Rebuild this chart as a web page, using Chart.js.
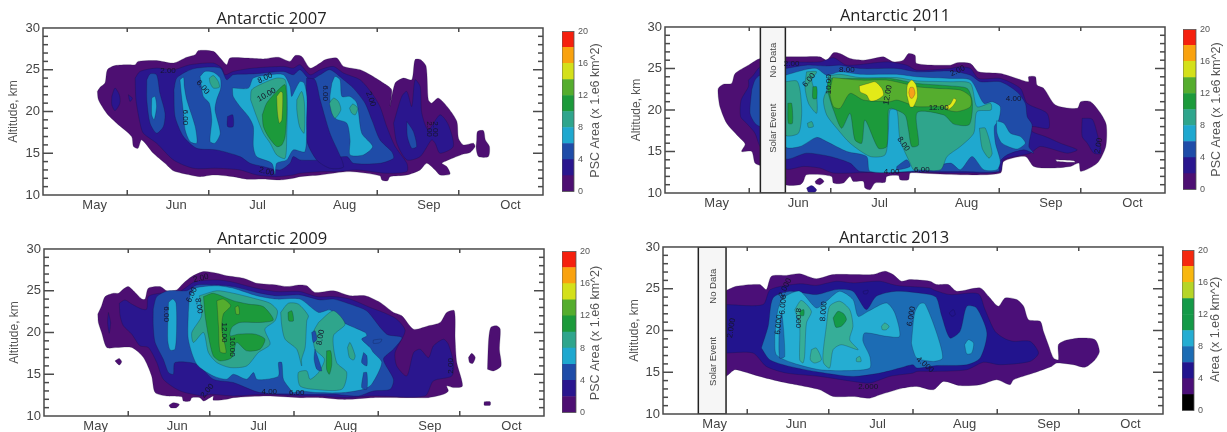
<!DOCTYPE html>
<html>
<head>
<meta charset="utf-8">
<title>Antarctic PSC area</title>
<script src="https://cdn.jsdelivr.net/npm/chart.js@4/dist/chart.umd.js"></script>
<style>
  html, body { margin: 0; background: #fff; }
  body { position: relative; width: 1227px; height: 432px; overflow: hidden; }
  canvas { position: absolute; filter: blur(0.4px); }
</style>
</head>
<body>
<script>
// x values are days since 1 May, y values are altitude in km

const monthNames  = ["May", "Jun", "Jul", "Aug", "Sep", "Oct"]
const monthCentre = [19, 49, 79, 111, 142, 172]
const monthStarts = [31, 61, 92, 123, 153]
const altTicks    = [10, 15, 20, 25, 30]
const barTicks    = [0, 4, 8, 12, 16, 20]

const colours = {
  purple: "#4d0f72", indigo: "#2a168e", blue: "#1f4ca8", cyan: "#1fa8cf", teal: "#2fa58c",
  green: "#1c9a3b", lime: "#55ad2e", yellow: "#e2ea18", orange: "#f6a11b", red: "#f4200e", white: "#ffffff"
}
const bandColours     = ["#4d0f72", "#2a168e", "#1f4ca8", "#1fa8cf", "#2fa58c", "#1c9a3b", "#55ad2e", "#d4e01a", "#f9a20f", "#f5200e"]
const bandColours2013 = ["#000000", "#4b0f78", "#22148e", "#1c6cb4", "#25add2", "#149a48", "#149a48", "#b6d527", "#f8b70f", "#f5290f"]
const colours2013 = { purple: "#4b0f78", indigo: "#22148e", blue: "#1c6cb4", cyan: "#25add2", teal: "#36ae98", green: "#149a48" }

// ── 2007 contours ────────────────────────────────────────────────────────────
const purple2007 = [
  [[20,22.4],[21,22.9],[22.8,23.4],[23.7,25],[26.5,25.5],[31.4,25.6],[33.9,25.6],[35,26],[41.8,26.1],[48,25.8],[52.9,26.5],[56,26.8],[57.2,27.3],[62.7,27.2],[65.2,26.4],[67.6,25.6],[68.8,26.4],[75,26.4],[81.1,26.3],[86.6,26.5],[90.9,26],[92.8,26.7],[95.2,26.6],[98.3,25.2],[102,25.8],[103.8,26.2],[108.1,26.4],[110.6,25.4],[116.7,25],[120.4,24.4],[125.3,23.4],[128.3,22.6],[127.7,20.6],[129.6,23.4],[132.6,24],[135.7,23.8],[136.9,26.2],[139,26.2],[141,25.4],[141.8,21.4],[143,21],[145.5,21.6],[149.2,20.4],[152.3,18.8],[152.9,16.8],[154.7,16],[158.4,16.2],[159,15.8],[157.2,15.1],[154.7,14.9],[149.2,14.2],[146.8,13.8],[148.6,13.4],[149.8,12.5],[146.1,12.4],[144.3,13],[141.2,13.8],[138.8,13],[133.9,12.4],[127.7,12.2],[126.8,11.7],[124.7,11.8],[124,12.3],[113,12.8],[102,12.4],[94.6,12.2],[92.1,12],[87.2,11.8],[82.3,11.9],[75,11.9],[70,12.2],[62.7,12.4],[57.8,12.2],[54.1,12.4],[48,12.9],[44.9,13.8],[40.6,15],[36.3,16.6],[35,15.6],[33.3,15.8],[32.6,17],[27.1,18.6],[23.4,19.8],[20.4,21.4]],
  [[159.6,16.6],[159.9,17.6],[162.1,17.7],[162.8,16.6],[164.3,15.8],[163.9,14.6],[160.3,14.6],[159.4,15.6]]
]
const indigo2007 = [
  [[33.9,24],[35.7,24.8],[41.8,25.2],[48,25],[54.1,25.6],[62.7,25.8],[65.8,25.2],[67,24.4],[70,24.8],[77.4,25.2],[88.5,25.4],[92.1,25.2],[94.6,25.6],[98.3,24.4],[102,25],[106.9,25.4],[110.6,24.6],[116.7,23.8],[121,22.2],[124,20.6],[126.5,18.2],[129.6,15.8],[133.9,13.8],[133.9,12.8],[126.5,12.6],[115.5,13],[108.1,12.8],[103.2,12.8],[94.6,12.6],[92.1,12.4],[86,12.2],[78.6,12.4],[72.5,13],[63.9,13.2],[55.3,13.2],[48,14.2],[41.8,16.2],[36.9,17.4],[35.7,18.6],[34.2,21.4]],
  [[25.3,21.8],[26.5,22.8],[28.1,22],[28.3,21],[26.5,20.1],[25.3,20.8]],
  [[31.4,22],[32.9,21.6],[32,21.2]],
  [[129,18.6],[132,21.8],[133.9,22.4],[135.7,20.6],[136.9,23.8],[138.8,23],[139.4,19.8],[141.8,17.8],[146.1,19.6],[149.2,18.4],[151,15.8],[146.1,15],[144.3,16.2],[143,16.6],[138.8,14.6],[133.9,14.2],[130.2,16.2]]
]
const blue2007 = [
  [[38.2,23.8],[39.4,24.5],[41.8,24.4],[43,22.2],[44.9,19.8],[44.3,18.2],[41.8,17.4],[39.4,18.6],[38.2,21.4]],
  [[48.2,22.6],[49.2,24],[52.9,24.8],[56.6,25.2],[65.2,25.2],[67.6,23.8],[70,24.4],[77.4,24.5],[88.5,24.8],[92.1,24.4],[94.6,25],[98.3,23.8],[102,24.4],[105.6,25],[110.6,23.8],[114.2,22.8],[118.5,21],[121,19],[124,16.6],[128.3,15.2],[129,14.4],[124,13.8],[114.2,13.8],[111.8,14.6],[102,14.2],[94.6,14.2],[92.1,14.6],[90.9,13.8],[87.2,13],[81.1,13.4],[76.2,13.8],[72.5,14.6],[63.9,15.4],[56.6,15.6],[51.7,17],[48.6,19.4]],
  [[133.9,18.8],[136.3,17.6],[137.5,15.8],[135.7,15.6],[134.1,17]]
]
const band2007 = [
  [[97,24],[100.1,23.8],[102,21.4],[105.6,17.4],[110.6,13.4],[105.6,13.2],[100.7,14.2],[97,16.6]],
  [[67.9,19.4],[69.8,19.6],[70,18.2],[67.9,18.2]]
]
const cyan2007 = [
  [[40,21.6],[41.2,21.8],[41.8,20.6],[40.9,19],[40,19.6]],
  [[50.4,23.8],[51.7,24.1],[52,23],[52.9,21.4],[56,18.2],[56.6,16.2],[54.1,16.4],[52.3,17.8],[51.7,19.8],[51,21.8]],
  [[57.8,24.2],[59.6,24.8],[62.7,24.7],[65.2,24],[65.4,22.8],[63.9,21.4],[63.3,20.2],[65.2,17.4],[63.3,16.2],[61.5,16.4],[62.1,19],[61.2,21],[59,21.8]],
  [[69.7,22.8],[75.6,22.8],[77.4,24],[83.6,24.4],[88.5,24.4],[90.9,23],[91.5,21.8],[92.8,22.6],[94.6,23.6],[96.1,23.4],[97.1,21.8],[97,19],[96.4,15.2],[92.1,15.4],[89.7,14.2],[86,13.8],[85.4,12.4],[84.2,13.8],[78.6,14.6],[77.4,15.8],[77.4,18.2],[75.6,19.4],[72.5,20.6],[70,21.8]],
  [[106.3,23.4],[107.5,24.2],[109.3,23.8],[110,21.8],[113,21.8],[115.5,21],[117.3,17.4],[121.3,15.8],[117.9,14.8],[113,14.8],[113,16.6],[111.8,18.6],[107.5,19.2],[105.6,21.4]]
]
const teal2007 = [
  [[61.2,24],[62.7,24.3],[64.5,23.6],[64.9,22.9],[62.7,22.8],[61.5,23.4]],
  [[76.4,21.4],[76.8,22.6],[81.1,23.4],[86,24],[89.1,23.8],[89.9,21.4],[89.7,17.4],[89.1,14.4],[86,14.8],[83.6,16.2],[81.1,17.4],[78.6,19.4]],
  [[93.4,21.4],[95.2,22.4],[96.2,21],[96.1,17.4],[94.4,18.2],[93.4,20.2]],
  [[105.4,21],[106.9,21.6],[108.7,21.2],[109.6,20.2],[107.5,19.2],[106.3,19.8]],
  [[112.8,20.4],[114,20.9],[115.8,20.4],[114.9,19.6],[113.6,19.8]]
]
const green2007 = [
  [[80.7,19.6],[82.3,21],[86,22.4],[89.1,23.2],[89.7,20.2],[89.1,17],[87.9,16],[86,15.8],[82.9,17],[81.1,18.2]]
]
const lime2007 = [
  [[86,21.8],[87.5,22.4],[88.2,22.2],[87.9,19],[87,18.6],[86.3,19.8]]
]
const labels2007 = [
  ["2.00",46,24.9,0],["6.00",58.8,22.9,50],["6.00",52.3,19.3,90],["8.00",81.7,24,-25],["10.00",82.3,22,-30],
  ["6.00",103.8,22.2,90],["2.00",120.6,21.5,70],["2.00",142.2,17.9,90],["2.00",144.3,17.9,90],["2.00",82.3,12.8,15]
]

// ── 2009 contours ────────────────────────────────────────────────────────────
const purple2009 = [
  [[19.8,22.2],[21.2,23.2],[22.5,24.3],[25.5,24.7],[27.4,24.7],[29.2,25.2],[31,25.5],[32.9,25],[36,24],[37.2,24],[38.4,25.3],[42.7,25.5],[45.2,25],[48.8,25.1],[51.3,25.9],[54.4,26.7],[58.7,27.3],[63.6,27.1],[67.2,26.8],[73.4,26.5],[78.3,25.9],[85.6,25.7],[89.3,25.5],[94.2,25.7],[96.7,25.6],[99.7,24.8],[106.5,25],[112.6,24.4],[118.2,24.4],[123.7,23.6],[128.6,22.4],[131.7,22],[136,20.4],[141.5,20.8],[145.8,21.2],[148.2,22.4],[151,22.6],[151.3,19.2],[151.9,16.4],[154,13.6],[150.7,13.4],[148.2,13.6],[148.8,13],[147,12.6],[141.5,12.2],[136,12.2],[131.1,12.2],[121.2,12.2],[112.6,12],[109,12],[101.6,12.2],[94.2,12.2],[82,12.4],[69.7,12.2],[67.2,12],[62.3,11.9],[62.3,12.4],[61.1,12.2],[58.7,11.8],[57.4,12.2],[54.4,12.2],[53.7,11.8],[51.3,11.8],[50.7,12.3],[45.2,12.4],[40.9,12.8],[39.6,14.8],[36.6,17],[32.3,18.2],[26.7,18.2],[23.1,18.2],[21.2,20],[20,21.2]],
  [[26.1,16.6],[27.7,16.9],[28.6,16.5],[27.7,16.1]],
  [[46,11.3],[47.6,11.6],[49.8,11.4],[48.8,11],[46.6,11]],
  [[156.2,17],[157.4,17.5],[158.7,17],[157.8,16.3],[156.6,16.4]],
  [[163.2,15.6],[163.6,19],[164.4,20.6],[166.6,20.8],[167.9,20.4],[167.6,18],[168.2,16],[165.4,15.4]],
  [[162,11.7],[164.2,11.7],[164.2,11.3],[162,11.3]]
]
const indigo2009 = [
  [[27.7,23.5],[29.8,23.9],[32.3,23.4],[36,22.8],[37.8,22.8],[38.4,24.3],[42.7,24.7],[48.8,24.7],[51.9,25.3],[55.6,26.1],[63.6,26.3],[68.5,26.1],[73.4,25.7],[78.3,25.3],[85.6,24.9],[94.2,24.9],[100.4,24.3],[106.5,24.3],[112.6,24],[120,23],[124.9,22.4],[129.8,21.6],[132.9,20.2],[129.2,17.6],[129.8,16],[133.5,14.8],[136,17.6],[138.4,18],[141.5,17],[143.3,18.4],[147,19.2],[148.8,18.6],[150.7,16.4],[150.1,14.8],[143.3,14.2],[140.2,12.4],[121.2,12.4],[110.2,12.2],[101.6,12.4],[94.2,12.4],[82,12.6],[69.7,12.4],[61.1,12.6],[58.7,12.4],[50.1,13],[43.9,14.4],[41.5,16.4],[38.4,18.2],[35.3,18.4],[32.3,19.8],[29.2,20.8],[28,22]],
  [[23.7,22.4],[24.5,21.2],[24,19.9],[23.4,21.2]]
]
const blue2009 = [
  [[40.2,22.8],[41.5,24.3],[45.8,25],[52.5,25],[56.2,25.7],[63.6,25.7],[69.7,25.5],[78.3,24.8],[85.6,24.4],[94.2,24.5],[101.6,23.9],[106.5,24],[112.6,23.4],[117.6,22.8],[119.4,22.4],[126.1,19.8],[131.7,19.4],[128.6,18],[124.9,16.8],[128.6,14.4],[127.4,13.2],[121.2,13],[115.7,12.4],[106.5,12.6],[94.2,12.6],[79.5,12.8],[69.7,14],[62.3,14.4],[56.2,16.2],[48.2,16.4],[47.6,15],[45.8,15.2],[43.9,16.8],[40.9,18.8],[40.2,20.8]]
]
const cyan2009 = [
  [[45.8,23.6],[47.4,24],[48.6,23.5],[48.8,20.4],[48.2,18],[46.4,17.9],[45.5,19.2]],
  [[53.1,22.4],[53.7,24.3],[55.6,25.3],[63.6,25.6],[69.7,25.3],[78.3,24.4],[85.6,24],[94.2,24],[101,22.4],[105.3,22.7],[110.2,21.2],[118.2,20],[118.8,19.6],[116.9,19.2],[120,18.2],[121.2,17.6],[124.3,16.4],[120.6,13.8],[117.6,13.2],[110.2,12.8],[100.4,12.8],[94.2,13],[91.8,12.8],[90.6,13.2],[88.1,14.4],[87.5,16.4],[86.3,16.4],[86.3,14.8],[82,14.4],[78.3,14.4],[77.1,15.2],[74.6,14.4],[69.7,15],[67.2,14.4],[62.3,14.8],[56.2,16.2],[53.1,19.2]]
]
const teal2009 = [
  [[57.2,24.4],[63.6,25],[69.7,24.7],[78.3,24],[83.2,23.5],[85.9,22.6],[85,21.4],[81.3,20.4],[83.2,18.6],[78.9,17.6],[74.6,16],[68.5,15.8],[63.6,16.4],[60.5,17.6],[58.7,20],[55,18.8],[54.4,20],[58,22]],
  [[87.1,22.4],[89.9,23.5],[93.6,23.4],[97.3,22],[96.7,21.4],[96.1,18.2],[94.8,16.8],[94.8,16],[93,18],[88.7,19.2],[87.5,20.8]],
  [[101,21.2],[106.5,22.6],[110.8,21],[106.5,19.6],[107.7,16.4],[111.4,15.2],[109.6,13.2],[99.1,13.2],[94.2,13.6],[93.6,15.2],[96.7,15.4],[97.9,14.4],[101,15.2],[103.2,16.8],[99.7,18],[99.1,20]],
  [[111.7,18.2],[112.6,18.8],[114.5,17.2],[113.9,16.7],[112.4,17]]
]
const holes2009 = [
  [[98.5,20],[99.7,20.2],[100.4,19.2],[99.1,18.8]],
  [[99.7,18],[101,16.8],[102.2,15.4],[100.4,15.6],[99.4,16.8]],
  [[121.2,19.1],[124.3,19.2],[123.7,18.8],[121.2,18.7]],
  [[117.6,17.6],[118.8,17.2],[118.8,16],[116.9,16.4]],
  [[117.6,15.2],[118.8,15.2],[118.8,13.2],[116.9,13.4]]
]
const green2009 = [
  [[58.7,24.3],[62.3,24.7],[69.7,23.8],[75.2,23.4],[80.7,23.1],[84.4,21.5],[79.5,21.2],[72.1,21.2],[69.1,20.6],[68.5,19.6],[71.5,19.8],[77.7,19.8],[81.3,19.2],[79.5,18],[74.6,17.8],[70.9,18.8],[69.1,17],[64.8,16.6],[62.3,17.2],[60.5,19.6],[59.3,22]],
  [[89.8,22.4],[91.2,22.6],[91.8,21.4],[90.1,21.4]],
  [[104,17.8],[105.5,17.8],[105.9,16.2],[105,15],[104,15.6]]
]
const lime2009 = [
  [[63.6,23.8],[66,24],[68.7,23.2],[66,22.2],[65.4,20.4],[67,17.6],[64.8,17.7],[64.2,20.8]],
  [[70.3,23],[71.5,23.2],[71.9,22.2],[70.7,22.2]]
]
const labels2009 = [
  ["2.00",57.8,26.5,-15],["6.00",54.4,24.5,-65],["8.00",57,23.2,80],["6.00",44.8,22.2,90],["12.00",66.3,20,90],
  ["10.00",69.1,18.3,90],["2.00",60.1,13,-50],["4.00",82.9,12.9,0],["6.00",93,12.8,0],["8.00",101.8,19.4,-80],["2.00",149.7,16,-90]
]

// ── 2011 contours ────────────────────────────────────────────────────────────
const purple2011 = [
  [[19.6,21.6],[19.6,22.6],[21.5,23.1],[24.5,23.2],[25.8,24.4],[30.7,25.4],[35,26.2],[44.3,26.4],[49.7,26.4],[57,26.4],[59.5,26],[62,26.9],[64.4,26.8],[68.1,26.2],[73,26],[76.7,26.2],[80.4,26.4],[84,25.8],[87.7,26],[89.6,26.8],[92,26.6],[92.6,25.6],[105,25.4],[107.5,25.7],[112.4,25.6],[115.4,24.6],[123.4,24.4],[129.5,23.8],[133.8,23.4],[133.8,24],[136.3,24],[136.9,23],[139.4,22.6],[143.7,20.6],[151.7,20.2],[153,21],[156.6,21],[160.3,19.6],[162.4,18.2],[162.2,15.6],[159.1,13.6],[153,12.6],[152.3,13.6],[149.2,13.2],[141.8,13],[135.7,13.2],[132.6,14.4],[124.6,13.8],[123.4,12.4],[108.7,12.2],[93.9,12.4],[90.2,12.4],[89.6,11.6],[86.5,11.6],[85.9,12.1],[81.6,12],[81,11.3],[77.3,11.2],[75.5,10.4],[73.6,10.6],[73,11.4],[69.3,11.4],[68.1,12],[65.6,11.2],[62,11.2],[61.3,12],[52.1,12.2],[50.9,11.4],[49.7,11],[44.3,11],[44.3,12],[35,13.3],[33.1,13.6],[31.9,15],[28.2,15],[29.5,15.9],[27,16.8],[22.7,18.4],[20.2,20.4]],
  [[55.2,11.4],[57,11.8],[58.5,11.4],[57,11],[55.6,11.1]]
]
const indigo2011 = [
  [[30.7,23.6],[32.5,24.2],[35,25.2],[38,25.2],[38,15],[35,15.6],[33.1,17.2],[30,18.4],[27.8,19.2],[28,21.2],[30.7,22.8]],
  [[44.3,25.8],[57,25.8],[62,26.3],[66.9,25.4],[81.6,25.8],[89,25.4],[92.6,24.8],[105,25],[108.1,25.2],[112.4,25],[115.4,23.8],[123.4,23.8],[130.8,22.6],[133.3,20.8],[140.6,19.6],[141.2,17.8],[135.1,18],[135.1,17.4],[140,16.8],[145.5,16],[151.7,15.2],[148,14.8],[138.2,15.6],[134.5,14.8],[132,14.6],[124.6,14],[123.4,12.6],[108.7,12.4],[93.9,12.5],[76.7,12.5],[62,12.4],[57,13],[51,13.2],[44.3,13]],
  [[52.1,10.6],[54,10.9],[55.8,10.4],[55.2,10.1],[52.8,10.1]],
  [[153.5,19],[157.2,18.9],[159,17.2],[160.5,14.8],[157.8,14.8],[155.4,16],[153.5,16.8]],
  [[127.1,19.8],[128.6,19.8],[128.4,19],[127.4,19.1]]
]
const blue2011 = [
  [[31.9,22.4],[33.1,23.6],[35,24.2],[38,24],[38,18],[35,18],[33.1,18.4],[31.3,19.6]],
  [[44.3,25],[52.1,25.4],[59.5,25.3],[64.4,25.4],[71.8,25],[85.3,25],[92.7,24.6],[105,24.7],[112.4,24.2],[116.1,23.4],[123.4,23.4],[129.5,22.2],[132.6,20.8],[133.3,19.2],[135.1,18.2],[133.9,15.6],[135.7,14.8],[132,15.2],[125.9,14.6],[122.8,13.6],[122.8,12.6],[108.7,12.6],[93.9,12.6],[71.8,12.6],[68.1,13.6],[60.7,14.4],[52.1,14.8],[44.3,14.2]]
]
const cyan2011 = [
  [[44.3,24.2],[52.1,24.9],[55.8,25],[59.5,24.2],[64.4,24.6],[71.8,24.3],[85.3,24.3],[92.7,24],[105,23.8],[112.4,23.6],[117.3,20.8],[120.4,21],[123.4,20.4],[122.8,18.8],[121.2,18],[121.6,16],[123.4,13.8],[122.2,12.8],[117.3,12.8],[113,14.4],[108.7,12.8],[105,13.6],[92.8,12.7],[75.5,12.6],[74.2,14.4],[66.9,15],[59.5,16.2],[55.8,16.7],[49.7,15.6],[44.3,15.6]],
  [[122,18.7],[124.7,18.4],[127.1,17.2],[130.8,16.8],[132.6,16],[129.5,15.3],[124,16],[122.2,17.2]]
]
const patches2011 = [
  [[85.3,13.2],[89,14],[90.2,13.2],[85.3,12.8]]
]
const teal2011 = [
  [[60.1,24.1],[64.4,24.3],[71.8,23.9],[85.3,23.9],[92.7,23.5],[105,23.4],[112.4,23.2],[114.8,20.4],[119.8,20.8],[120,20],[114.8,19.8],[113.6,17.2],[108.7,15.6],[103.8,14.4],[101.4,12.8],[92.8,12.8],[91.4,12.8],[90.2,13.6],[86.5,16.4],[85.3,20],[82.8,20],[82.2,17.6],[81,14.6],[75.5,14.4],[68.1,16],[63.2,17.8],[59.5,19.4],[58.3,21.2],[60.1,23]],
  [[44.3,23.4],[48.5,23.5],[49.7,22.4],[50.3,19.6],[49.1,17.2],[44.3,17]],
  [[52.1,24.6],[55.8,24.6],[54,23.6],[55.8,21.6],[55.8,19.6],[52.8,20.8],[51.5,22.8]],
  [[52.4,18.4],[54,18.6],[54.6,18],[52.8,17.9]],
  [[115.7,17.8],[117.9,17.8],[120.4,14.8],[119.2,14.2],[116.7,15.4]]
]
const green2011 = [
  [[60.7,23.8],[71.8,23.8],[82.8,23.8],[92.7,23.2],[105,22.9],[111.2,22.6],[113,21.2],[113,19.6],[111.8,18.2],[106.3,18.3],[102.6,19.4],[92.8,19.7],[93.3,15.8],[90.8,15.6],[89.6,17.6],[88.3,19.4],[83.4,20.2],[82.2,20],[81.6,15.6],[78.5,15.4],[73.6,18.8],[72.4,16],[69.9,16.4],[68.1,19.6],[65,17.8],[62,20],[60.1,22],[59.8,23.2]],
  [[54.4,22.8],[55.8,22.8],[55.8,21.4],[54.4,21.4]],
  [[45.2,20.8],[46.6,20.8],[46.9,18.4],[45.4,18.4]]
]
const lime2011 = [
  [[61.7,23.9],[71.8,23.6],[81.6,23.6],[87.7,23.2],[92.7,22.8],[100.1,22.6],[108.7,22.4],[112.4,21.6],[112.4,20.4],[107.5,19.8],[103.8,20],[101.4,20.4],[92.7,20.4],[88.3,20.9],[85.3,21.2],[82.8,21],[81.6,21],[73,21.2],[68.1,22],[64.4,20.2],[62,20.4],[60.7,22]]
]
const yellow2011 = [
  [[71.5,22.9],[74.8,23.2],[77.3,23.4],[79.8,22.6],[80.4,21.8],[77.9,21.2],[75.5,21.1],[74.2,21.8],[71.8,22.2]],
  [[103.2,20.4],[105,20.7],[106.3,21.4],[107.2,21.2],[106,20.5],[104.4,20.1]],
  [[89,21.8],[89.2,23],[90.8,23.6],[92.4,23],[92.9,21.6],[91.4,20.4],[90.2,20.4]]
]
const orange2011 = [
  [[89.7,22.1],[90.2,22.7],[91.4,22.7],[92,22],[91,21.4],[90.2,21.5]]
]
const gaps2011 = [
  [[143.7,14],[150.4,13.9],[151,13.7],[144.3,13.8]]
]
const box2011 = [[35.1,10],[44.3,10],[44.3,30],[35.1,30]]
const labels2011 = [
  ["2.00",46.6,25.6,0],["8.00",66.9,24.9,0],["6.00",53,23.6,-50],["10.00",60.1,23.1,-90],["12.00",82,21.8,-80],
  ["8.00",87.7,15.9,55],["4.00",83.4,12.5,0],["6.00",94.5,12.8,0],["2.00",107.7,24.7,-25],["4.00",128.3,21.4,0],
  ["12.00",100.7,20.3,0],["2.00",159.6,15.7,-80]
]
const boxText2011 = [["No Data",39.7,26,-90],["Solar Event",39.7,17.8,-90]]

// ── 2013 contours ────────────────────────────────────────────────────────────
const purple2013 = [
  [[22,24.8],[23.2,24.8],[27,25.3],[35.6,25.5],[38,24.9],[39.9,26.5],[45.4,26.6],[50.3,26.8],[56.4,26.2],[62.6,26.7],[69.9,26.7],[77.3,26.7],[81.6,27.1],[84.7,26.7],[87.7,25.9],[90.8,26.1],[98.2,25.9],[100.7,25.5],[105,25.5],[108.1,24.7],[116.7,25.1],[119.8,24.1],[123.4,22.9],[125.9,23.9],[130.2,23.7],[132.7,22.9],[134.5,21.3],[138.8,21.1],[140,19.9],[141.8,18.3],[143.7,16.7],[145.5,16.5],[145.5,18.3],[148,18.8],[153.5,19.1],[159,18.9],[160.6,17.5],[159,16.5],[155.3,15.6],[151,15.9],[144.9,16.1],[143,15.7],[136.3,14.9],[129,14.1],[127.7,13.5],[122.8,14.1],[116.7,13.5],[109.3,13.4],[103.2,13.9],[99.5,12.9],[93.4,13.3],[88.3,13.1],[79.8,12.3],[76.1,11.9],[69.9,12.1],[62.6,12.1],[57.7,12.9],[49.1,13.5],[42.9,13.9],[35.6,14.5],[29.4,15.1],[26.4,15.3],[23.2,14.5],[22,14.5]]
]
const indigo2013 = [
  [[22,23.1],[23.2,23.1],[36.8,23.1],[39.5,24.9],[50.3,25.6],[56.4,25.4],[63.8,25.9],[69.9,25.7],[79.8,25.9],[85.9,25.4],[98.2,25.1],[100.1,24.8],[105.6,24.3],[116,24.4],[118.5,22.5],[122.2,19.9],[125.9,19],[129,18.7],[135.1,18.7],[138.2,17.3],[135.1,16.3],[124,15.9],[117.9,16.2],[111.8,15.3],[99.5,15.1],[93.4,15.1],[92,14.9],[83.4,14.5],[76.1,13.7],[69.9,13.9],[57.7,14.5],[45.4,14.9],[38,15.7],[33.1,17.3],[23.2,17.3],[22,17.3]]
]
const blue2013 = [
  [[36.2,17.9],[38.7,20.5],[40.5,23.9],[46.6,24.7],[56.4,24.3],[63.8,24.9],[69.9,24.7],[74.8,22.5],[78.5,24.1],[85.9,24.7],[98.2,24.3],[100.7,23.9],[102.6,21.7],[105.6,19.1],[109.3,19.9],[111.8,22.9],[115.4,22.7],[119.2,19.7],[116.7,16.7],[111.8,15.9],[100.7,15.8],[93.4,15.5],[92,15.9],[87.1,15.5],[79.8,14.9],[69.9,14.5],[57.7,15],[46.6,15.7],[39.3,16.5]]
]
const spots2013 = [
  [[73.6,24.7],[75.5,24.8],[75.1,24.4],[73.9,24.4]],
  [[105.3,22.1],[106.9,22.5],[107.5,21.9],[106.3,21.7]]
]
const cyan2013 = [
  [[41.1,19.3],[42.3,22.5],[44.2,23.9],[50.3,24.7],[56.4,22.7],[60.1,23.5],[65,24.7],[69.9,23.7],[71.8,21.7],[75.5,22.3],[82.2,23.3],[85.3,22.1],[87.1,19.3],[82.2,19.3],[74.2,19.7],[73.6,18.7],[76.1,16.9],[76.1,15.5],[68.7,15.2],[57.7,15.3],[47.9,16.1],[41.7,17.1]],
  [[91.4,18.5],[92.6,22.1],[94.5,23.2],[96.4,23.2],[100.7,19.7],[102.9,16.7],[99.5,16.3],[93.4,16.7],[92,17.7]],
  [[111,18.3],[112.4,18.9],[114.3,18.5],[113.6,17.3],[111.8,17.2]]
]
const stripe2013 = [
  [[42.7,20.1],[43.7,22.1],[44.8,16.9],[42.9,16.7]]
]
const teal2013 = [
  [[48.5,22.5],[50.9,23.6],[54.6,22.3],[52.8,20.9],[52.1,16.9],[51.5,16.1],[50.3,16.5],[50.3,20.5]],
  [[54.6,17.7],[56.4,17.9],[58.3,16.5],[55.8,16.1],[54.2,16.5]],
  [[60.1,20.5],[61.3,22.9],[65,23.5],[68.7,22.5],[69.9,20.5],[68.7,18.9],[71.8,17.7],[65.6,18.3],[62.6,17.7],[61.3,15.5],[59.1,16.1],[58.9,17.3]],
  [[71.2,16.7],[72.4,16.9],[72.9,16.3],[71.2,16.3]],
  [[80.4,20.5],[81.6,20.9],[83.2,20.5],[82.2,20.1],[80.7,20.1]]
]
const green2013 = [
  [[62.6,21.5],[64.4,22.3],[66.5,22],[67.5,21.3],[65.6,20.5],[63.6,20.4]],
  [[50.3,22.3],[51.8,22.5],[51.8,21.8],[50.6,21.8]]
]
const box2013 = [[13,10],[23.2,10],[23.2,30],[13,30]]
const labels2013 = [
  ["2.000",45,25.1,-65],["6.000",42.6,20.7,-85],["6.000",44.2,23.1,-85],["8.000",49.7,21.5,90],["8.000",59.1,22.3,-85],
  ["6.000",91.4,21.7,-80],["2.000",75.5,13.3,0],["4.000",96.4,15.9,40],["2.000",25.2,20.3,-80]
]
const boxText2013 = [["No Data",18.4,25.3,-90],["Solar Event",18.4,16.3,-90]]

// ── drawing helpers ──────────────────────────────────────────────────────────

// frame, inward tick marks and the little text bits the scales cannot place
const panelMarks = {
  id: "panelMarks",
  afterDatasetsDraw(chart, args, opts) {
    const {ctx, chartArea: a, scales} = chart
    ctx.save()
    ctx.strokeStyle = opts.frameColor || "#4a4a4a"
    ctx.lineWidth = opts.frameWidth || 1.5

    if (opts.contour) {
      const x = scales.x, y = scales.y
      const mark = (px, py, dx, dy) => {
        ctx.beginPath(); ctx.moveTo(px, py); ctx.lineTo(px + dx, py + dy); ctx.stroke()
      }
      monthStarts.forEach(d => {
        mark(x.getPixelForValue(d), a.bottom, 0, -5)
        mark(x.getPixelForValue(d), a.top, 0, 4)
      })
      for (let km = 11; km < 30; km++) {
        const len = km % 5 === 0 ? 10 : 5
        mark(a.left, y.getPixelForValue(km), len, 0)
        mark(a.right, y.getPixelForValue(km), -len, 0)
      }
      ;(opts.labels || []).forEach(([text, d, km, rot]) => {
        ctx.save()
        ctx.translate(x.getPixelForValue(d), y.getPixelForValue(km))
        ctx.rotate(rot * Math.PI / 180)
        ctx.font = "8px 'Liberation Sans'"
        ctx.fillStyle = "#15152a"
        ctx.textAlign = "center"
        ctx.textBaseline = "middle"
        ctx.fillText(text, 0, 0)
        ctx.restore()
      })
      ;(opts.boxText || []).forEach(([text, d, km, rot]) => {
        ctx.save()
        ctx.translate(x.getPixelForValue(d), y.getPixelForValue(km))
        ctx.rotate(rot * Math.PI / 180)
        ctx.font = "9.5px 'Liberation Sans'"
        ctx.fillStyle = "#444"
        ctx.textAlign = "center"
        ctx.textBaseline = "middle"
        ctx.fillText(text, 0, 0)
        ctx.restore()
      })
    }

    ctx.strokeRect(a.left, a.top, a.right - a.left, a.bottom - a.top)

    if (opts.sideTitle) {
      ctx.translate(a.right + opts.sideTitle.dx, (a.top + a.bottom) / 2 + opts.sideTitle.dy)
      ctx.rotate(-Math.PI / 2)
      ctx.font = "12.5px 'Liberation Sans'"
      ctx.fillStyle = "#555"
      ctx.textAlign = "center"
      ctx.textBaseline = "middle"
      ctx.fillText(opts.sideTitle.text, 0, 0)
    }
    ctx.restore()
  }
}

function addCanvas(left, top, width, height) {
  const c = document.createElement("canvas")
  c.width = width
  c.height = height
  c.style.left = left + "px"
  c.style.top = top + "px"
  document.body.appendChild(c)
  return c
}

function shapeDataset(poly, colour, order, edge) {
  return {
    data: [...poly, poly[0]],
    showLine: true,
    fill: "shape",
    backgroundColor: colour,
    borderColor: edge || "rgba(15,15,45,0.4)",
    borderWidth: edge ? 1.5 : 0.6,
    tension: edge ? 0 : 0.25,
    pointRadius: 0,
    order
  }
}

function contourChart(p) {
  const flat = []
  p.layers.forEach(([colour, polys]) => polys.forEach(poly => flat.push([colour, poly])))
  if (p.box) flat.push(["#f6f6f6", p.box, "#222"])
  const datasets = flat.map(([colour, poly, edge], i) => shapeDataset(poly, colour, flat.length - i, edge))

  new Chart(addCanvas(p.left, p.top, p.width, p.height), {
    type: "scatter",
    data: { datasets },
    options: {
      responsive: false,
      animation: false,
      layout: { padding: { right: p.padRight } },
      scales: {
        x: {
          type: "linear", min: 0, max: 184,
          grid: { display: false, drawTicks: false }, border: { display: false },
          afterBuildTicks: s => { s.ticks = monthCentre.map(value => ({ value })) },
          afterFit: s => { s.height = p.bottomGap },
          ticks: {
            autoSkip: false, maxRotation: 0, padding: 3, color: "#444",
            font: { family: "'Liberation Sans'", size: 13 },
            callback: (v, i) => monthNames[i]
          }
        },
        y: {
          type: "linear", min: 10, max: 30,
          grid: { display: false, drawTicks: false }, border: { display: false },
          afterBuildTicks: s => { s.ticks = altTicks.map(value => ({ value })) },
          afterFit: s => { s.width = p.leftGap },
          ticks: {
            autoSkip: false, padding: 3, color: "#444",
            font: { family: "'Liberation Sans'", size: 13 }
          },
          title: {
            display: true, text: "Altitude, km", color: "#555",
            font: { family: "'Liberation Sans'", size: 12 },
            padding: { top: p.titlePad, bottom: 0 }
          }
        }
      },
      plugins: {
        legend: { display: false },
        tooltip: { enabled: false },
        title: {
          display: true, text: p.title, color: "#222",
          font: { family: "'Open Sans'", size: 16.5, weight: "normal", lineHeight: 1.09 },
          padding: { top: 0, bottom: p.titleGap }
        },
        panelMarks: { contour: true, labels: p.labels, boxText: p.boxText }
      }
    },
    plugins: [panelMarks]
  })
}

function colourBar(p) {
  new Chart(addCanvas(p.left, p.top - 6, p.width + 46, p.height + 12), {
    type: "bar",
    data: {
      labels: [""],
      datasets: p.bands.map(c => ({ data: [2], backgroundColor: c, barPercentage: 1, categoryPercentage: 1 }))
    },
    options: {
      responsive: false,
      animation: false,
      layout: { padding: { top: 6, bottom: 6, right: 28 } },
      scales: {
        x: { stacked: true, display: false },
        y: {
          stacked: true, position: "right", min: 0, max: 20,
          grid: { display: false, drawTicks: false }, border: { display: false },
          afterBuildTicks: s => { s.ticks = barTicks.map(value => ({ value })) },
          afterFit: s => { s.width = 18 },
          ticks: { autoSkip: false, padding: 4, color: "#555", font: { family: "'Liberation Sans'", size: 9 } }
        }
      },
      plugins: {
        legend: { display: false },
        tooltip: { enabled: false },
        panelMarks: { frameColor: "#555", frameWidth: 0.8, sideTitle: { text: p.text, dx: p.textDx, dy: p.textDy } }
      }
    },
    plugins: [panelMarks]
  })
}

const c = colours, k = colours2013

contourChart({
  title: "Antarctic 2007", left: 0, top: 10, width: 604, height: 206, leftGap: 43, padRight: 61, bottomGap: 21, titleGap: 0, titlePad: 6,
  layers: [[c.purple, purple2007], [c.indigo, indigo2007], [c.blue, blue2007], [c.indigo, band2007], [c.cyan, cyan2007],
           [c.teal, teal2007], [c.green, green2007], ["#8fc52c", lime2007]],
  labels: labels2007
})
contourChart({
  title: "Antarctic 2009", left: 0, top: 230, width: 608, height: 202, leftGap: 44, padRight: 64, bottomGap: 16, titleGap: 1, titlePad: 7,
  layers: [[c.purple, purple2009], [c.indigo, indigo2009], [c.blue, blue2009], [c.cyan, cyan2009], [c.teal, teal2009],
           [c.blue, holes2009], [c.green, green2009], [c.lime, lime2009]],
  labels: labels2009
})
contourChart({
  title: "Antarctic 2011", left: 625, top: 7, width: 601, height: 209, leftGap: 40, padRight: 61, bottomGap: 23, titleGap: 2, titlePad: 4,
  layers: [[c.purple, purple2011], [c.indigo, indigo2011], [c.blue, blue2011], [c.cyan, cyan2011], [c.blue, patches2011],
           [c.teal, teal2011], [c.green, green2011], [c.lime, lime2011], [c.yellow, yellow2011], [c.orange, orange2011], [c.white, gaps2011]],
  box: box2011, labels: labels2011, boxText: boxText2011
})
contourChart({
  title: "Antarctic 2013", left: 625, top: 229, width: 592, height: 203, leftGap: 38, padRight: 54, bottomGap: 18, titleGap: 0, titlePad: 2,
  layers: [[k.purple, purple2013], [k.indigo, indigo2013], [k.blue, blue2013], [k.indigo, spots2013], [k.cyan, cyan2013], [k.blue, stripe2013],
           [k.teal, teal2013], [k.green, green2013]],
  box: box2013, labels: labels2013, boxText: boxText2013
})

colourBar({ left: 562, top: 28,  width: 12, height: 167, bands: bandColours, text: "PSC Area (x 1.e6 km^2)", textDx: 22, textDy: -1 })
colourBar({ left: 562, top: 248, width: 14, height: 168, bands: bandColours, text: "PSC Area (x 1.e6 km^2)", textDx: 20, textDy: 1 })
colourBar({ left: 1183, top: 26, width: 13, height: 167, bands: bandColours, text: "PSC Area (x 1.e6 km^2)", textDx: 21, textDy: 0 })
colourBar({ left: 1182, top: 247, width: 12, height: 167, bands: bandColours2013, text: "Area (x 1.e6 km^2)", textDx: 22, textDy: -1 })
</script>
</body>
</html>
